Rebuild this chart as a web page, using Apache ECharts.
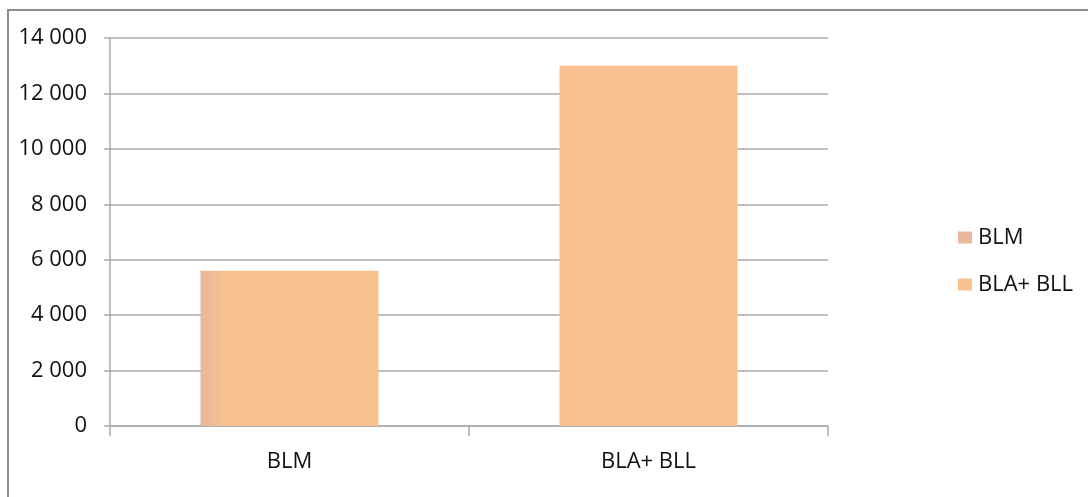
<!DOCTYPE html>
<html>
<head>
<meta charset="utf-8">
<script src="https://cdn.jsdelivr.net/npm/echarts@6/dist/echarts.min.js"></script>
<style>
  html, body { margin: 0; padding: 0; background: #fff; }
  #chart { width: 1088px; height: 497px; }
</style>
</head>
<body>
<div id="chart"></div>
<script>
// Categories, series and axis ticks
const categories = ['BLM', 'BLA+ BLL'];
const seriesNames = ['BLM', 'BLA+ BLL'];
const blmValues = [5600, '-'];
const blaBllValues = ['-', 13000];
const yTicks = [0, 2000, 4000, 6000, 8000, 10000, 12000, 14000];

const FONT = '"Open Sans", sans-serif';
const TEXT = '#111111';
const GRID_GRAY = '#ababab';

function fmt(v) {
  return String(v).replace(/\B(?=(\d{3})+(?!\d))/g, ' ');
}

const chart = echarts.init(document.getElementById('chart'), null, { renderer: 'canvas' });

chart.setOption({
  animation: false,
  backgroundColor: '#ffffff',
  graphic: [{
    type: 'rect',
    shape: { x: 8, y: 10, width: 1200, height: 600 },
    style: { fill: 'none', stroke: '#8c8c8c', lineWidth: 2 },
    silent: true
  }],
  grid: { left: 110, right: 260, top: 38, bottom: 71 },
  legend: {
    orient: 'vertical',
    left: 953,
    top: 221,
    itemWidth: 14,
    itemHeight: 12,
    itemGap: 24,
    icon: 'rect',
    textStyle: { fontFamily: FONT, fontSize: 22, color: TEXT, lineHeight: 23, padding: [0, 0, 0, 1] },
    data: [
      { name: seriesNames[0], itemStyle: { color: '#e9b79c' } },
      { name: seriesNames[1], itemStyle: { color: '#f9c090' } }
    ]
  },
  xAxis: {
    type: 'category',
    data: categories,
    boundaryGap: true,
    axisLine: { show: true, lineStyle: { color: GRID_GRAY, width: 1.5 } },
    axisTick: { show: true, length: 10, alignWithLabel: false, lineStyle: { color: GRID_GRAY, width: 1.5 } },
    axisLabel: { fontFamily: FONT, fontSize: 22, color: TEXT, margin: 25 },
    splitLine: { show: false }
  },
  yAxis: {
    type: 'value',
    min: yTicks[0],
    max: yTicks[yTicks.length - 1],
    interval: yTicks[1] - yTicks[0],
    axisLine: { show: true, lineStyle: { color: GRID_GRAY, width: 1.5 } },
    axisTick: { show: true, length: 6, lineStyle: { color: GRID_GRAY, width: 1.5 } },
    axisLabel: { fontFamily: FONT, fontSize: 22, color: TEXT, margin: 23, formatter: fmt },
    splitLine: { show: true, lineStyle: { color: GRID_GRAY, width: 1.5 } }
  },
  series: [
    {
      name: seriesNames[0],
      type: 'bar',
      stack: 'total',
      barWidth: 178,
      data: blmValues,
      itemStyle: {
        color: new echarts.graphic.LinearGradient(0, 0, 1, 0, [
          { offset: 0, color: '#e9b79c' },
          { offset: 0.05, color: '#eeba99' },
          { offset: 0.13, color: '#f8c090' },
          { offset: 1, color: '#f9c190' }
        ])
      }
    },
    {
      name: seriesNames[1],
      type: 'bar',
      stack: 'total',
      barWidth: 178,
      data: blaBllValues,
      itemStyle: { color: '#f9c190' }
    }
  ]
});
</script>
</body>
</html>
